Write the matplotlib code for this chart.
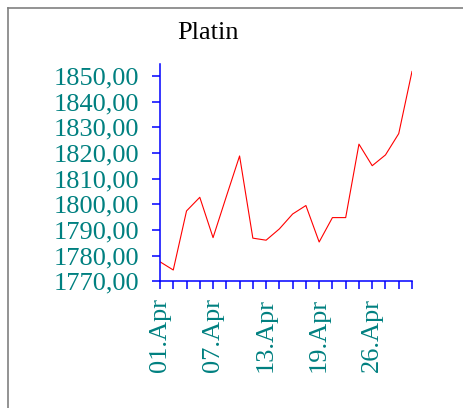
import matplotlib
matplotlib.use("Agg")
import matplotlib.pyplot as plt
from matplotlib.lines import Line2D
from matplotlib.ticker import FuncFormatter

# Platin price, April
dates = ["01.Apr", "02.Apr", "03.Apr", "06.Apr", "07.Apr", "08.Apr", "09.Apr",
         "10.Apr", "13.Apr", "14.Apr", "15.Apr", "16.Apr", "19.Apr", "20.Apr",
         "21.Apr", "22.Apr", "26.Apr", "27.Apr", "28.Apr", "29.Apr"]
prices = [1777.6, 1774.4, 1797.4, 1802.7, 1787.0, 1803.0, 1818.8, 1786.8,
          1786.0, 1790.4, 1796.2, 1799.5, 1785.3, 1794.8, 1794.8, 1823.4,
          1815.0, 1819.2, 1827.5, 1851.7]
yticks = [1770, 1780, 1790, 1800, 1810, 1820, 1830, 1840, 1850]
label_every = 4

plt.rcParams['font.family'] = ['Liberation Serif', 'DejaVu Serif']
teal = '#008080'
blue = '#0000ff'

fig = plt.figure(figsize=(4.64, 4.08), dpi=100)
ax = fig.add_axes([160/464, 126.7/408, 252/464, 217.3/408])

x = list(range(len(prices)))
ax.plot(x, prices, color='#ff0000', linewidth=0.8)

ax.set_xlim(0, len(prices) - 1)
ax.set_ylim(1770, 1854.6)
ax.set_yticks(yticks)
ax.yaxis.set_major_formatter(FuncFormatter(lambda v, p: f"{v:.2f}".replace('.', ',')))
ax.set_xticks(x)
ax.set_xticklabels([d if i % label_every == 0 else "" for i, d in enumerate(dates)],
                   rotation=90)

for s in ['top', 'right']:
    ax.spines[s].set_visible(False)
for s in ['left', 'bottom']:
    ax.spines[s].set_color(blue)
    ax.spines[s].set_linewidth(1.1)

ax.tick_params(axis='y', colors=blue, labelcolor=teal, labelsize=19,
               length=6, width=1.1, pad=9)
ax.tick_params(axis='x', colors=blue, labelcolor=teal, labelsize=19,
               length=6, width=1.1, pad=6)

fig.text(207.5/464, 1 - 33/408, "Platin", ha='center', va='center',
         fontsize=19, color='black')

# gray frame around the chart
fig.add_artist(Line2D([8/464, 1], [1 - 8/408, 1 - 8/408], color='#808080',
                      linewidth=1.2, transform=fig.transFigure))
fig.add_artist(Line2D([8/464, 8/464], [0, 1 - 8/408], color='#808080',
                      linewidth=1.2, transform=fig.transFigure))

fig.savefig("out.png", dpi=100)
